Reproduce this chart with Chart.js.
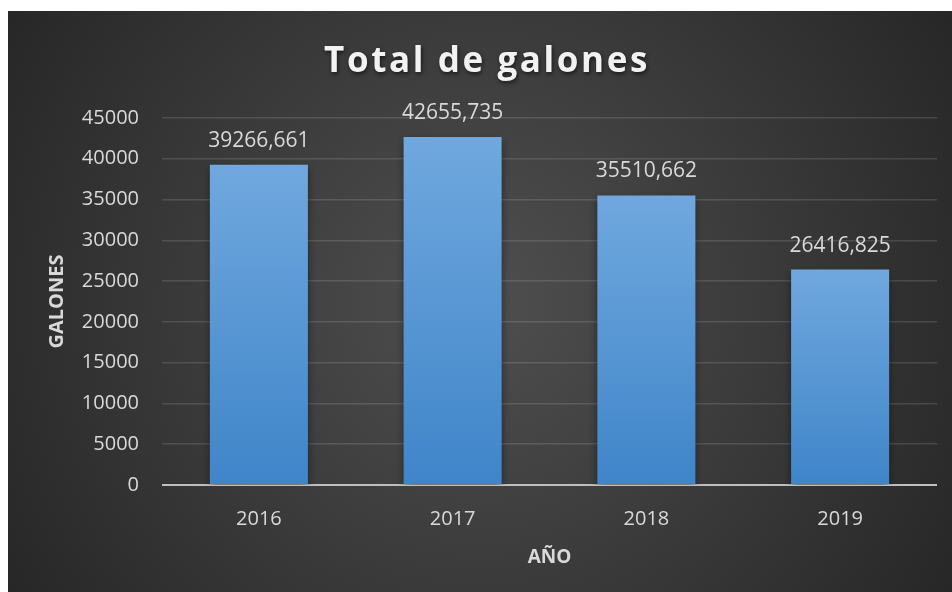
<!DOCTYPE html>
<html>
<head>
<meta charset="utf-8">
<script src="https://cdn.jsdelivr.net/npm/chart.js@4/dist/chart.umd.min.js"></script>
<style>
    html, body { margin: 0; padding: 0; background: #ffffff; }
    #wrap { position: absolute; left: 8px; top: 11px; width: 944px; height: 581px; }
</style>
</head>
<body>
<div id="wrap"><canvas id="galonesChart" width="944" height="581"></canvas></div>
<script>
// Data
const years = ['2016', '2017', '2018', '2019'];
const galones = [39266.661, 42655.735, 35510.662, 26416.825];
const yTicks = [0, 5000, 10000, 15000, 20000, 25000, 30000, 35000, 40000, 45000];

const chartTitle = 'Total de galones';
const yTitle = 'GALONES';
const xTitle = 'AÑO';

const FONT = '"Open Sans", "DejaVu Sans", sans-serif';
const TEXT = '#d9d9d9';

// Dark panel with a soft lighter centre
const backgroundPlugin = {
    id: 'panelBackground',
    beforeDraw(chart) {
        const { ctx, width, height } = chart;
        const g = ctx.createRadialGradient(width * 0.5, height * 0.5, 0, width * 0.5, height * 0.5, width * 0.6);
        g.addColorStop(0, '#4f4f4f');
        g.addColorStop(1, '#262626');
        ctx.save();
        ctx.fillStyle = g;
        ctx.fillRect(0, 0, width, height);
        ctx.restore();
    }
};

// Big spaced title with a little shadow
const titlePlugin = {
    id: 'spacedTitle',
    afterDraw(chart) {
        const ctx = chart.ctx;
        ctx.save();
        ctx.font = `bold 35px ${FONT}`;
        ctx.letterSpacing = '2.6px';
        ctx.fillStyle = '#f2f2f2';
        ctx.textAlign = 'center';
        ctx.textBaseline = 'alphabetic';
        ctx.shadowColor = 'rgba(0,0,0,0.6)';
        ctx.shadowBlur = 4;
        ctx.shadowOffsetX = 1;
        ctx.shadowOffsetY = 2;
        ctx.fillText(chartTitle, 479, 61);
        ctx.restore();
    }
};

// Shadow under the bars
const barShadowPlugin = {
    id: 'barShadow',
    beforeDatasetsDraw(chart) {
        const ctx = chart.ctx;
        ctx.save();
        ctx.shadowColor = 'rgba(0,0,0,0.45)';
        ctx.shadowBlur = 8;
        ctx.shadowOffsetY = 4;
    },
    afterDatasetsDraw(chart) {
        chart.ctx.restore();
    }
};

// Value labels above each bar, decimal comma
const valueLabelPlugin = {
    id: 'valueLabels',
    afterDatasetsDraw(chart) {
        const ctx = chart.ctx;
        const meta = chart.getDatasetMeta(0);
        ctx.save();
        ctx.font = `21px ${FONT}`;
        ctx.fillStyle = TEXT;
        ctx.textAlign = 'center';
        ctx.textBaseline = 'middle';
        meta.data.forEach((bar, i) => {
            const txt = galones[i].toFixed(3).replace('.', ',');
            ctx.fillText(txt, bar.x, bar.y - 24);
        });
        ctx.restore();
    }
};

function barGradient(context) {
    const chart = context.chart;
    const area = chart.chartArea;
    if (!area) return '#5b9bd5';
    const top = chart.scales.y.getPixelForValue(context.raw);
    const g = chart.ctx.createLinearGradient(0, top, 0, area.bottom);
    g.addColorStop(0, '#70a8de');
    g.addColorStop(1, '#3f85c9');
    return g;
}

const ctx = document.getElementById('galonesChart').getContext('2d');
const galonesChart = new Chart(ctx, {
    type: 'bar',
    data: {
        labels: years,
        datasets: [{
            label: 'Total de galones',
            data: galones,
            backgroundColor: barGradient,
            borderWidth: 0,
            barPercentage: 0.506,
            categoryPercentage: 1
        }]
    },
    options: {
        responsive: false,
        animation: false,
        layout: {
            padding: { top: 107, right: 15, bottom: 0, left: 0 }
        },
        plugins: {
            legend: { display: false },
            title: { display: false },
            tooltip: { enabled: false }
        },
        scales: {
            x: {
                grid: { display: false },
                border: { display: false },
                ticks: {
                    color: TEXT,
                    font: { family: FONT, size: 20 },
                    padding: 14
                },
                title: {
                    display: true,
                    text: xTitle,
                    color: TEXT,
                    font: { family: FONT, size: 19, weight: 'bold' },
                    padding: { top: 0, bottom: 23 }
                },
                afterFit(scale) { scale.height = 107; }
            },
            y: {
                min: 0,
                max: 45000,
                afterBuildTicks(scale) {
                    scale.ticks = yTicks.map(v => ({ value: v }));
                },
                grid: {
                    drawTicks: false,
                    color: c => c.tick && c.tick.value === 0 ? '#bfbfbf' : 'rgba(255,255,255,0.13)',
                    lineWidth: c => c.tick && c.tick.value === 0 ? 2 : 1.5
                },
                border: { display: false },
                ticks: {
                    color: TEXT,
                    font: { family: FONT, size: 20 },
                    padding: 23,
                    callback: v => String(v)
                },
                title: {
                    display: true,
                    text: yTitle,
                    color: TEXT,
                    font: { family: FONT, size: 20, weight: 'bold' },
                    padding: { top: 37, bottom: 0 }
                },
                afterFit(scale) { scale.width = 154; }
            }
        }
    },
    plugins: [backgroundPlugin, barShadowPlugin, valueLabelPlugin, titlePlugin]
});
</script>
</body>
</html>
